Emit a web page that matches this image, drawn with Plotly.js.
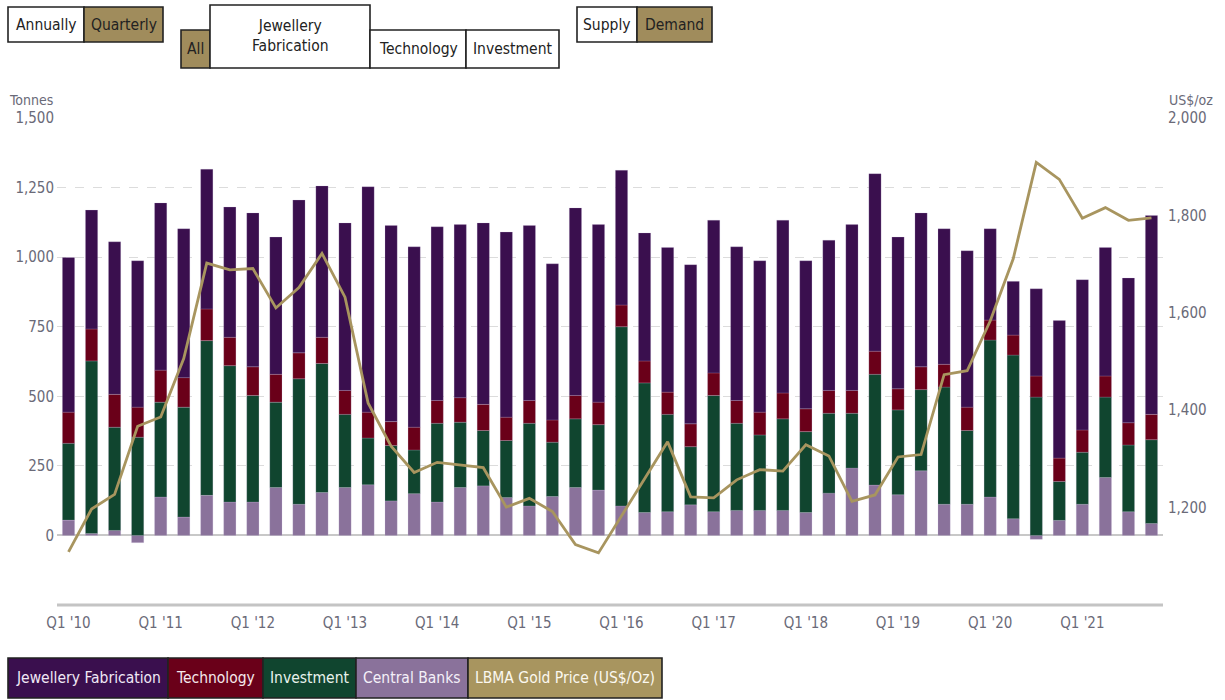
<!DOCTYPE html>
<html>
<head>
<meta charset="utf-8">
<script src="https://cdn.plot.ly/plotly-3.0.1.min.js"></script>
<style>
html,body{margin:0;padding:0;background:#fff;}
#chart{width:1225px;height:700px;}
</style>
</head>
<body>
<div id="chart"></div>
<script>
var quarters = ["Q1 '10","Q2 '10","Q3 '10","Q4 '10","Q1 '11","Q2 '11","Q3 '11","Q4 '11",
"Q1 '12","Q2 '12","Q3 '12","Q4 '12","Q1 '13","Q2 '13","Q3 '13","Q4 '13",
"Q1 '14","Q2 '14","Q3 '14","Q4 '14","Q1 '15","Q2 '15","Q3 '15","Q4 '15",
"Q1 '16","Q2 '16","Q3 '16","Q4 '16","Q1 '17","Q2 '17","Q3 '17","Q4 '17",
"Q1 '18","Q2 '18","Q3 '18","Q4 '18","Q1 '19","Q2 '19","Q3 '19","Q4 '19",
"Q1 '20","Q2 '20","Q3 '20","Q4 '20","Q1 '21","Q2 '21","Q3 '21","Q4 '21"];

var tickLabels = ["Q1 '10","Q1 '11","Q1 '12","Q1 '13","Q1 '14","Q1 '15","Q1 '16","Q1 '17","Q1 '18","Q1 '19","Q1 '20","Q1 '21"];

var centralBanks = [55,7,18,-26,138,66,144,120,120,172,112,154,172,182,124,150,
120,172,178,136,106,140,172,163,106,82,85,110,85,90,90,90,
82,152,242,181,146,232,112,112,138,60,-14,54,112,208,85,43];

var investment = [276,620,371,353,341,395,556,490,383,307,451,464,263,168,199,157,
283,235,199,205,297,195,247,235,644,466,350,209,418,313,271,329,
291,287,197,398,305,292,421,265,564,588,497,140,187,289,240,301];

var technology = [112,115,118,108,115,106,114,102,103,100,93,94,86,93,86,82,
82,88,94,84,82,80,84,81,78,79,80,82,81,82,82,93,
82,82,82,83,76,82,82,84,72,72,76,84,80,76,80,91];

var jewellery = [556,427,548,526,601,535,502,468,553,493,549,544,602,810,705,648,
624,622,652,665,629,561,674,638,484,460,520,572,549,552,544,621,
532,540,596,638,545,553,487,562,328,193,313,494,540,462,520,715];

var goldPrice = [1109,1197,1227,1367,1386,1506,1702,1688,1691,1610,1652,1722,1632,1415,1326,1272,
1293,1288,1282,1201,1219,1192,1124,1107,1183,1260,1335,1222,1220,1257,1278,1275,
1329,1306,1213,1226,1304,1309,1473,1481,1583,1711,1909,1874,1794,1816,1790,1795];

var seriesNames = ["Jewellery Fabrication","Technology","Investment","Central Banks","LBMA Gold Price (US$/Oz)"];
var colors = {jew:"#3a0f4e", tech:"#6a0019", inv:"#10452f", cb:"#8a729b", gold:"#a8955f"};

var FONT = "'Liberation Sans Narrow', 'DejaVu Sans Condensed', 'Roboto Condensed', 'Liberation Sans', sans-serif";
var TICKC = "#6a6a78";

// plot area in pixels
var L = 57, R = 1163, T = 118, B = 605;
function px(x){ return (x - L) / (R - L); }
function py(y){ return (B - y) / (B - T); }

function bar(name, vals, color){
  return {type:"bar", name:name, x:quarters, y:vals, marker:{color:color, line:{color:"rgba(200,190,220,0.35)", width:0.6}},
          hoverinfo:"x+y+name"};
}

var traces = [
  bar(seriesNames[3], centralBanks, colors.cb),
  bar(seriesNames[2], investment, colors.inv),
  bar(seriesNames[1], technology, colors.tech),
  bar(seriesNames[0], jewellery, colors.jew),
  {type:"scatter", mode:"lines", name:seriesNames[4], x:quarters, y:goldPrice, yaxis:"y2",
   line:{color:colors.gold, width:2.8}, cliponaxis:true}
];

var shapes = [], annotations = [];

function box(x0,y0,x1,y1,fill,text,tcolor,fsize){
  shapes.push({type:"rect", xref:"paper", yref:"paper", x0:px(x0), x1:px(x1), y0:py(y1), y1:py(y0),
    fillcolor:fill, line:{color:"#222", width:1.6}, layer:"above"});
  annotations.push({xref:"paper", yref:"paper", x:px((x0+x1)/2), y:py((y0+y1)/2), xanchor:"center", yanchor:"middle",
    text:text, showarrow:false, font:{family:FONT, size:fsize||15.5, color:tcolor}});
}

// top buttons
box(8,7,84,42,"#ffffff","Annually","#222");
box(84,7,163,42,"#a08c5c","Quarterly","#222");
box(181,30,210,68,"#a08c5c","All","#222");
box(210,5,370,68,"#ffffff","Jewellery<br>Fabrication","#222");
box(370,30,466,68,"#ffffff","Technology","#222");
box(466,30,559,68,"#ffffff","Investment","#222");
box(577,7,637,42,"#ffffff","Supply","#222");
box(637,7,712,42,"#a08c5c","Demand","#222");

// custom legend
box(8,658,168,698,colors.jew,seriesNames[0],"#f0e8f5",15.5);
box(168,658,263,698,colors.tech,seriesNames[1],"#f5e8ec",15.5);
box(263,658,356,698,colors.inv,seriesNames[2],"#e8f2ec",15.5);
box(356,658,468,698,colors.cb,seriesNames[3],"#f4f0f8",15.5);
box(468,658,662,698,colors.gold,seriesNames[4],"#fbf8f0",15.5);

// axis titles
annotations.push({xref:"paper", yref:"paper", x:px(55), y:py(100), xanchor:"right", yanchor:"middle",
  text:"Tonnes", showarrow:false, font:{family:FONT, size:14, color:TICKC}});
annotations.push({xref:"paper", yref:"paper", x:px(1167), y:py(100), xanchor:"left", yanchor:"middle",
  text:"US$/oz", showarrow:false, font:{family:FONT, size:14, color:TICKC}});

// bottom axis line
shapes.push({type:"line", xref:"paper", yref:"paper", x0:0, x1:1, y0:0, y1:0, line:{color:"#c4c4c4", width:3}});

var layout = {
  width:1225, height:700,
  margin:{l:L, r:1225-R, t:T, b:700-B, pad:0},
  paper_bgcolor:"#ffffff", plot_bgcolor:"#ffffff",
  barmode:"relative", bargap:0.47,
  showlegend:false,
  font:{family:FONT, size:15, color:TICKC},
  xaxis:{type:"category", range:[-0.5,47.5], tickmode:"array", tickvals:tickLabels, ticktext:tickLabels,
         showgrid:false, showline:false, zeroline:false, ticks:"", ticklabelstandoff:7,
         tickfont:{family:FONT, size:15, color:TICKC}},
  yaxis:{range:[-250,1500], tickmode:"array", tickvals:[0,250,500,750,1000,1250,1500], tickformat:",d",
         showgrid:true, gridcolor:"#dcdcdc", gridwidth:1, griddash:"dash",
         zeroline:true, zerolinecolor:"#c8c8c8", zerolinewidth:2,
         showline:false, ticks:"", ticklabelstandoff:2,
         tickfont:{family:FONT, size:15, color:TICKC}},
  yaxis2:{range:[1000,2000], overlaying:"y", side:"right", tickmode:"array", tickvals:[1200,1400,1600,1800,2000],
          tickformat:",d", showgrid:false, zeroline:false, showline:false, ticks:"", ticklabelstandoff:4,
          tickfont:{family:FONT, size:15, color:TICKC}},
  shapes:shapes, annotations:annotations
};

Plotly.newPlot("chart", traces, layout, {displayModeBar:false, staticPlot:true});
</script>
</body>
</html>
